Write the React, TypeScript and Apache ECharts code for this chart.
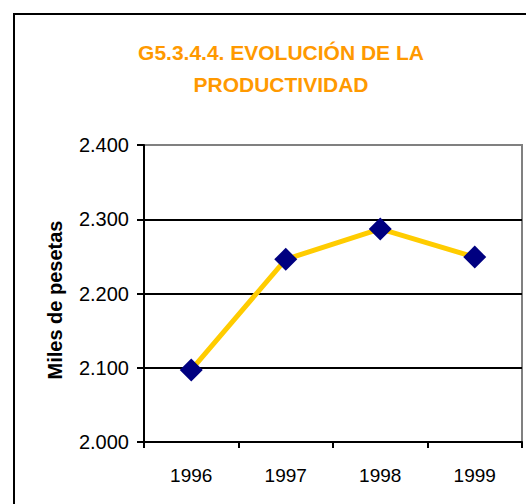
import React, { useEffect, useRef } from "react";
import * as echarts from "echarts";

const years = ["1996", "1997", "1998", "1999"];
const productividad = [2097, 2246, 2287, 2249];
const yTicks = { min: 2000, max: 2400, interval: 100 };
const titleText = "G5.3.4.4. EVOLUCIÓN DE LA\nPRODUCTIVIDAD";
const yName = "Miles de pesetas";

const FONT = "'Liberation Sans', Arial, sans-serif";

function fmt(v: number): string {
  const s = Math.round(v).toString();
  return s.replace(/\B(?=(\d{3})+(?!\d))/g, ".");
}

export default function App() {
  const ref = useRef<HTMLDivElement>(null);
  useEffect(() => {
    if (!ref.current) return;
    const chart = echarts.init(ref.current, undefined, { renderer: "svg" });
    chart.setOption({
      animation: false,
      backgroundColor: "#ffffff",
      title: {
        text: titleText,
        left: 276,
        top: 31,
        textAlign: "center",
        textStyle: {
          color: "#FF9900",
          fontFamily: FONT,
          fontWeight: "bold",
          fontSize: 21,
          lineHeight: 32,
        },
      },
      graphic: [
        {
          type: "rect",
          shape: { x: 14, y: 14, width: 620, height: 620 },
          style: { fill: "none", stroke: "#000", lineWidth: 2 },
          silent: true,
        },
        {
          type: "text",
          x: 55,
          y: 300,
          rotation: Math.PI / 2,
          style: {
            text: yName,
            fill: "#000",
            font: `bold 20px ${FONT}`,
            align: "center",
            verticalAlign: "middle",
          },
        },
      ],
      grid: {
        left: 144,
        top: 145,
        right: 4,
        bottom: 62,
        show: true,
        borderColor: "#808080",
        borderWidth: 2,
        backgroundColor: "transparent",
      },
      xAxis: {
        type: "category",
        data: years,
        boundaryGap: true,
        axisLine: { lineStyle: { color: "#000", width: 2 } },
        axisTick: { show: true, length: 6, inside: false, lineStyle: { color: "#000", width: 2 } },
        axisLabel: { color: "#000", fontFamily: FONT, fontSize: 19, margin: 24 },
        splitLine: { show: false },
      },
      yAxis: {
        type: "value",
        min: yTicks.min,
        max: yTicks.max,
        interval: yTicks.interval,
        axisLine: { show: true, lineStyle: { color: "#000", width: 2 } },
        axisTick: { show: true, length: 7, lineStyle: { color: "#000", width: 2 } },
        axisLabel: {
          color: "#000",
          fontFamily: FONT,
          fontSize: 20,
          margin: 15,
          formatter: (v: number) => fmt(v),
        },
        splitLine: {
          show: true,
          lineStyle: { color: ["#000", "#000", "#000", "#000", "#808080"], width: 2 },
        },
      },
      series: [
        {
          type: "line",
          data: productividad,
          lineStyle: { color: "#FFCC00", width: 5 },
          itemStyle: { color: "#000080" },
          symbol: "diamond",
          symbolSize: 23,
          z: 3,
        },
      ],
    });
    return () => chart.dispose();
  }, []);
  return (
    <div
      ref={ref}
      style={{ position: "fixed", left: 0, top: 0, width: 526, height: 504, background: "#fff" }}
    />
  );
}
